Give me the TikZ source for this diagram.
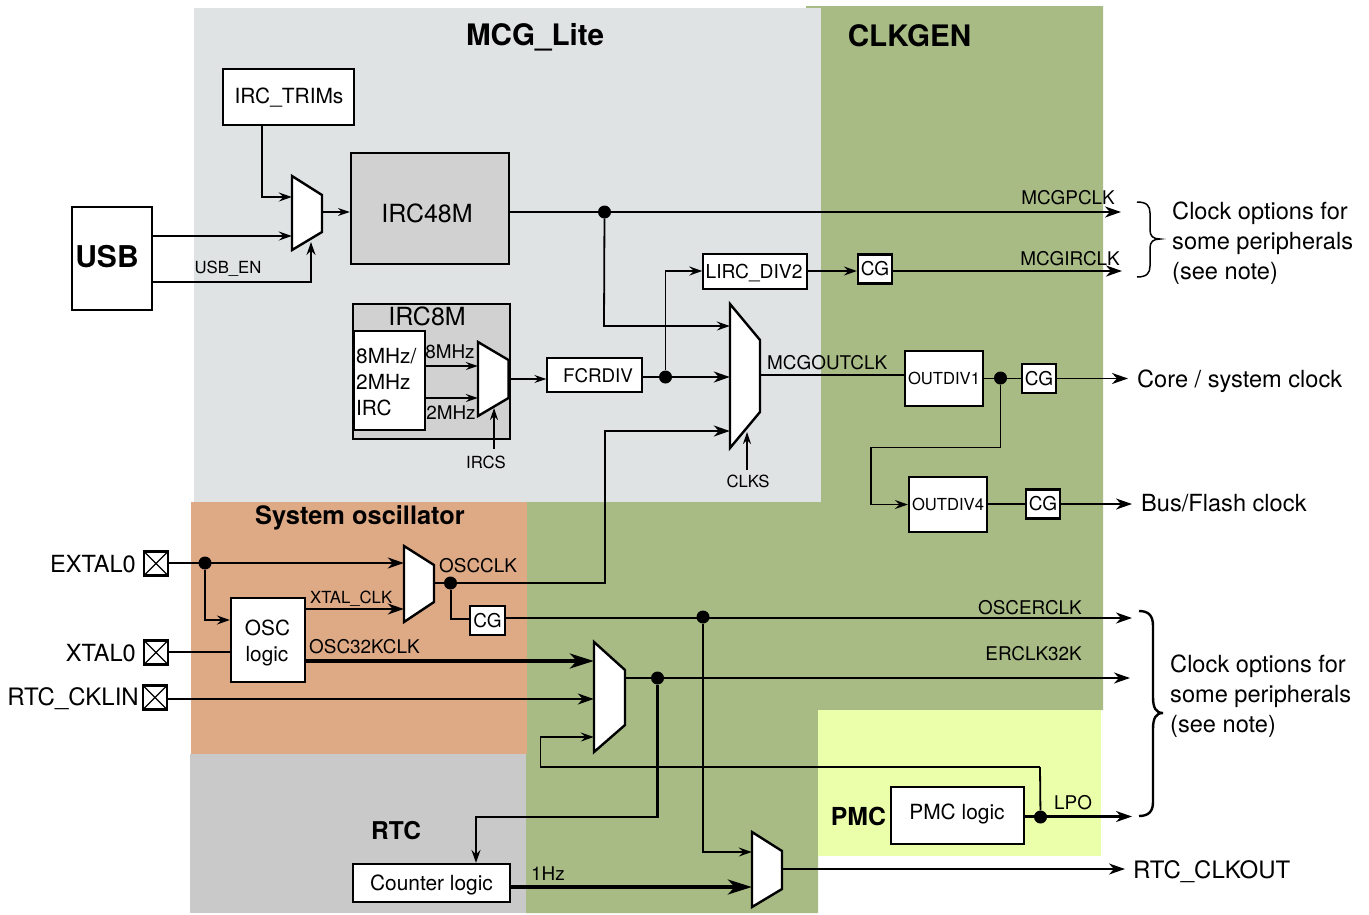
\documentclass[tikz,border=0pt]{standalone}
\usepackage{fontspec}
\setmainfont{TeX Gyre Heros}
\usetikzlibrary{arrows.meta}
\definecolor{mcgbg}{HTML}{DFE3E4}
\definecolor{greenbg}{HTML}{A8BB85}
\definecolor{orangebg}{HTML}{DEA985}
\definecolor{rtcbg}{HTML}{C9C9C9}
\definecolor{pmcbg}{HTML}{EBFEA9}
\definecolor{boxgray}{HTML}{D1D1D1}
\newcommand{\fs}[1]{\fontsize{#1}{#1}\selectfont}
\tikzset{
  box/.style={draw=black,line width=2.2pt,fill=white,inner sep=0pt,align=center},
  graybox/.style={box,fill=boxgray},
  cgbox/.style={box,minimum width=34pt,minimum height=29pt,font=\fs{19}},
  divbox/.style={box,minimum width=78pt,minimum height=55pt,font=\fs{16.6}},
  pin/.style={draw=black,line width=2.4pt,fill=white,minimum size=24pt,inner sep=0pt,
    path picture={\draw[line width=1.1pt] (path picture bounding box.south west)--(path picture bounding box.north east)
      (path picture bounding box.north west)--(path picture bounding box.south east);}},
  dot/.style={circle,fill=black,inner sep=0pt,minimum size=13pt},
  boxtext/.style={inner sep=0pt},
  lab/.style={inner sep=0pt,font=\fs{18.9},yshift=-5pt},
  smalllab/.style={inner sep=0pt,font=\fs{16.7}},
  biglab/.style={inner sep=0pt,font=\fs{23.6},align=left,yshift=-5.5pt},
  head/.style={inner sep=0pt,font=\bfseries\fs{29.6}},
  muxbody/.style={draw=black,line width=2.4pt,fill=white,line join=miter},
  wire/.style={line width=1.8pt,-{Stealth[inset=4.5pt,length=13pt,width=9pt]}},
  wireplain/.style={line width=1.8pt},
  wirem/.style={line width=2.4pt,-{Stealth[inset=5pt,length=16pt,width=11pt]}},
  wirethin/.style={line width=1.4pt,-{Stealth[inset=4pt,length=12pt,width=8pt]}},
  wireheavy/.style={line width=3.2pt,-{Stealth[inset=7pt,length=24pt,width=15pt]}},
}
% name, x-left, x-right, y-top, y-right-top, y-right-bottom, y-bottom
\newcommand{\muxdraw}[7]{%
  \path[muxbody] (#2,#4)--(#3,#5)--(#3,#6)--(#2,#7)--cycle;
  \node[inner sep=0pt,minimum width=#3pt-#2pt,minimum height=#7pt-#4pt] (#1) at ({(#2+#3)/2},{(#4+#7)/2}) {};
}
\begin{document}
\begin{tikzpicture}[x=1pt,y=-1pt]
\useasboundingbox (0,0) rectangle (1369,914);
% background regions
\fill[greenbg] (806,6)--(1103,6)--(1103,710)--(818,710)--(818,913)--(526,913)--(526,500)--(806,500)--cycle;
\fill[mcgbg] (194,8) rectangle (821,502);
\fill[orangebg] (191,502) rectangle (527,754);
\fill[rtcbg] (190,754) rectangle (526,913);
\fill[pmcbg] (818,710) rectangle (1101,856);
% headings
\node[head] (tmcg) at (535,37.5) {MCG\_Lite};
\node[head] (tclk) at (909.5,36) {CLKGEN};
\node[head,font=\bfseries\fs{25.4}] (tosc) at (360,518) {System oscillator};
\node[head,font=\bfseries\fs{24.5}] (trtc) at (396,831) {RTC};
\node[head,font=\bfseries\fs{24.8}] (tpmc) at (858.5,816) {PMC};
% boxes
\node[box,minimum width=131pt,minimum height=56pt] (trims) at (288.5,97) {};
\node[boxtext,font=\fs{20.9}] (trimst) at (289,97.5) {IRC\_TRIMs};
\node[graybox,minimum width=158pt,minimum height=111pt] (irc48) at (430,208.5) {};
\node[boxtext,font=\fs{25}] (irc48t) at (427,213) {IRC48M};
\node[box,line width=2.6pt,minimum width=80pt,minimum height=103pt] (usb) at (112,258.5) {};
\node[boxtext,font=\bfseries\fs{30}] (usbt) at (107,257) {USB};
\node[graybox,minimum width=157pt,minimum height=135pt] (irc8) at (431.5,371.5) {};
\node[boxtext,font=\fs{25}] (irc8t) at (427,316) {IRC8M};
\node[box,line width=2.6pt,minimum width=71pt,minimum height=99pt] (ircint) at (389.5,380.5) {};
\node[boxtext,font=\fs{20.8},anchor=mid west] (irct1) at (356,361) {8MHz/};
\node[boxtext,font=\fs{20.8},anchor=mid west] (irct2) at (356,387) {2MHz};
\node[boxtext,font=\fs{20.8},anchor=mid west] (irct3) at (356,413) {IRC};
\node[box,line width=1.4pt,minimum width=95pt,minimum height=34pt] (fcrdiv) at (594.5,375) {};
\node[boxtext,font=\fs{18.8}] (fcrdivt) at (598,376) {FCRDIV};
\node[box,line width=1.4pt,minimum width=104pt,minimum height=35pt] (lirc) at (755,271.5) {};
\node[boxtext,font=\fs{19.2}] (lirct) at (754,273) {LIRC\_DIV2};
\node[cgbox] (cg1) at (875,269) {CG};
\node[divbox] (od1) at (944,378.5) {OUTDIV1};
\node[cgbox] (cg2) at (1039,378.5) {CG};
\node[divbox] (od4) at (948,504.5) {OUTDIV4};
\node[cgbox] (cg3) at (1043,504) {CG};
\node[box,minimum width=74pt,minimum height=84pt] (osc) at (268,640) {};
\node[boxtext,font=\fs{20.8}] (osct1) at (267.5,628) {OSC};
\node[boxtext,font=\fs{20.8}] (osct2) at (267,656) {logic};
\node[cgbox,minimum width=35pt] (cg4) at (487.5,620.5) {CG};
\node[box,minimum width=133pt,minimum height=57pt] (pmcl) at (957.5,815.5) {};
\node[boxtext,font=\fs{20.9}] (pmclt) at (957,814) {PMC logic};
\node[box,minimum width=157pt,minimum height=38pt] (cnt) at (431.5,883) {};
\node[boxtext,font=\fs{20.9}] (cntt) at (431.5,885) {Counter logic};
% pins
\node[pin] (pextal) at (156,563.5) {};
\node[pin] (pxtal) at (156,652.5) {};
\node[pin] (prtc) at (155,697.5) {};
\node[biglab,anchor=mid east] (lextal) at (136,564) {EXTAL0};
\node[biglab,anchor=mid east] (lxtal) at (136,653) {XTAL0};
\node[biglab,anchor=mid east,font=\fs{24}] (lrtc) at (139,697) {RTC\_CKLIN};
% muxes
\muxdraw{ma}{292}{322}{176}{195}{232}{250}
\muxdraw{mb}{478}{508.5}{342}{360}{398}{416}
\muxdraw{mc}{730}{760}{304}{340}{412}{448}
\muxdraw{md}{404}{434}{546}{565}{602}{622}
\muxdraw{me}{594}{625}{642}{670}{725}{752}
\muxdraw{mf}{752}{782}{832}{851}{889}{907}
% junction dots and free ends
\node[dot] (j1) at (604.5,212) {};
\node[dot] (j2) at (665.5,377) {};
\node[dot] (j3) at (1000.5,378) {};
\node[dot] (j4) at (205,563) {};
\node[dot] (j5) at (450.5,583) {};
\node[dot] (j6) at (703,617) {};
\node[dot] (j7) at (657.5,678) {};
\node[dot] (j8) at (1040.5,817) {};
\coordinate (emcgp) at (1121,212);
\coordinate (emcgi) at (1122,271);
\coordinate (ecore) at (1128,378.5);
\coordinate (ebus) at (1132,504);
\coordinate (eosce) at (1132,618);
\coordinate (eerclk) at (1130,678);
\coordinate (elpo) at (1132,816.5);
\coordinate (ertc) at (1125,869);
\coordinate (lpotop) at (1040,767);
\coordinate (ircsfoot) at (494,449);
\coordinate (ircstip) at (494,408);
\coordinate (clksfoot) at (747,470);
\coordinate (clkstip) at (747,432);
% connectors
\draw[wire] (trims.south -| 262,0) -- (262,197) -- (ma.west |- 0,197);
\draw[wire] (usb.east |- 0,236) -- (ma.west |- 0,236);
\draw[wire] (usb.east |- 0,282) -- (311,282) -- (311,242);
\draw[wirethin] (ma.east |- 0,212) -- (irc48.west |- 0,212);
\draw[wirem] (irc48.east |- 0,212) -- (emcgp);
\draw[wire] (j1) -- (604,326) -- (mc.west |- 0,326);
\draw[wirethin,line width=1.6pt] (ircint.east |- 0,366) -- (mb.west |- 0,366);
\draw[wirethin,line width=1.6pt] (ircint.east |- 0,398) -- (mb.west |- 0,398);
\draw[wirethin] (mb.east |- 0,379) -- (fcrdiv.west |- 0,379);
\draw[wirem,line width=2.6pt] (fcrdiv.east |- 0,377) -- (mc.west |- 0,377);
\draw[wire] (j2) -- (665.5,271) -- (lirc.west |- 0,271);
\draw[wire] (lirc.east |- 0,271) -- (cg1.west |- 0,271);
\draw[wirem] (cg1.east |- 0,271) -- (emcgi);
\draw[wireplain,line width=1.6pt] (mc.east |- 0,375) -- (od1.west |- 0,375);
\draw[wireplain] (od1.east |- 0,378.5) -- (cg2.west |- 0,378.5);
\draw[wirem,line width=1.9pt] (cg2.east) -- (ecore);
\draw[wire] (j3) -- (1000.5,447.5) -- (871,447.5) -- (871,504.5) -- (od4.west |- 0,504.5);
\draw[wireplain] (od4.east |- 0,504) -- (cg3.west |- 0,504);
\draw[wirem,line width=1.9pt] (cg3.east) -- (ebus);
\draw[wirethin] (ircsfoot) -- (ircstip);
\draw[wirethin] (clksfoot) -- (clkstip);
\draw[wirem,line width=2.1pt] (pextal.east |- 0,563) -- (md.west |- 0,563);
\draw[wire] (j4) -- (205,620) -- (osc.west |- 0,620);
\draw[wireplain,line width=1.5pt] (pxtal.east |- 0,652) -- (osc.west |- 0,652);
\draw[wireheavy] (osc.east |- 0,661) -- (me.west |- 0,661);
\draw[wirem,line width=2.5pt] (prtc.east |- 0,699) -- (me.west |- 0,699);
\draw[wirem,line width=1.9pt] (osc.east |- 0,609) -- (md.west |- 0,609);
\draw[wirem] (md.east |- 0,583) -- (605,583) -- (605,431) -- (mc.west |- 0,431);
\draw[wireplain,line width=2pt] (j5) -- (450.5,619) -- (cg4.west |- 0,619);
\draw[wirem] (cg4.east |- 0,618) -- (eosce);
\draw[wire] (j6) -- (703,852) -- (mf.west |- 0,852);
\draw[wirem,line width=1.9pt] (me.east |- 0,678) -- (eerclk);
\draw[wire,line width=2.2pt] (j7) -- (657.5,817) -- (476,817) -- (cnt.north -| 476,0);
\draw[wire] (lpotop) -- (540.5,767) -- (540.5,737) -- (me.west |- 0,737);
\draw[wireplain] (lpotop) -- (j8);
\draw[wirem,line width=2.1pt] (pmcl.east |- 0,816.5) -- (elpo);
\draw[wireheavy] (cnt.east |- 0,887) -- (mf.west |- 0,887);
\draw[wirem,line width=1.5pt] (mf.east |- 0,869) -- (ertc);
% labels
\node[smalllab] (lusben) at (228,269) {USB\_EN};
\node[lab,anchor=mid east] (lmcgp) at (1115,197) {MCGPCLK};
\node[lab,anchor=mid east] (lmcgi) at (1120,258) {MCGIRCLK};
\node[lab,anchor=mid] (l8m) at (450,351) {8MHz};
\node[lab,anchor=mid] (l2m) at (451,412) {2MHz};
\node[lab,anchor=mid west] (lmo) at (767,362) {MCGOUTCLK};
\node[smalllab] (lircs) at (486,462) {IRCS};
\node[smalllab] (lclks) at (748,481) {CLKS};
\node[smalllab,anchor=mid west] (lxc) at (310,601) {XTAL\_CLK};
\node[lab,anchor=mid west] (losc32) at (309,646) {OSC32KCLK};
\node[lab,anchor=mid west] (loscclk) at (439,565) {OSCCLK};
\node[lab,anchor=mid east] (loscer) at (1082,607) {OSCERCLK};
\node[lab,anchor=mid east] (ler) at (1082,653) {ERCLK32K};
\node[lab,anchor=mid west] (llpo) at (1054,802) {LPO};
\node[lab,anchor=mid west] (l1hz) at (531,873) {1Hz};
\node[biglab,anchor=mid west] (lcore) at (1137,379) {Core / system clock};
\node[biglab,anchor=mid west] (lbus) at (1141,503) {Bus/Flash clock};
\node[biglab,anchor=mid west,font=\fs{24}] (lrtcout) at (1133,870) {RTC\_CLKOUT};
\node[biglab,anchor=mid west] (c1a) at (1172,211) {Clock options for};
\node[biglab,anchor=mid west] (c1b) at (1172,241) {some peripherals};
\node[biglab,anchor=mid west] (c1c) at (1172,271) {(see note)};
\node[biglab,anchor=mid west] (c2a) at (1170,664) {Clock options for};
\node[biglab,anchor=mid west] (c2b) at (1170,694) {some peripherals};
\node[biglab,anchor=mid west] (c2c) at (1170,724) {(see note)};
% braces
\draw[line width=1.5pt] (1137,202) .. controls (1147,202) and (1150,206) .. (1150,213)
  -- (1150,230) .. controls (1150,236) and (1153,239) .. (1160,239)
  .. controls (1153,239) and (1150,242) .. (1150,248) -- (1150,266)
  .. controls (1150,273) and (1147,277) .. (1137,277);
\draw[line width=2.4pt] (1139,611) .. controls (1149,611) and (1153,616) .. (1153,626)
  -- (1153,697) .. controls (1153,708) and (1156,713) .. (1163,713)
  .. controls (1156,713) and (1153,718) .. (1153,729) -- (1153,802)
  .. controls (1153,811) and (1149,816) .. (1139,816);
\end{tikzpicture}
\end{document}
